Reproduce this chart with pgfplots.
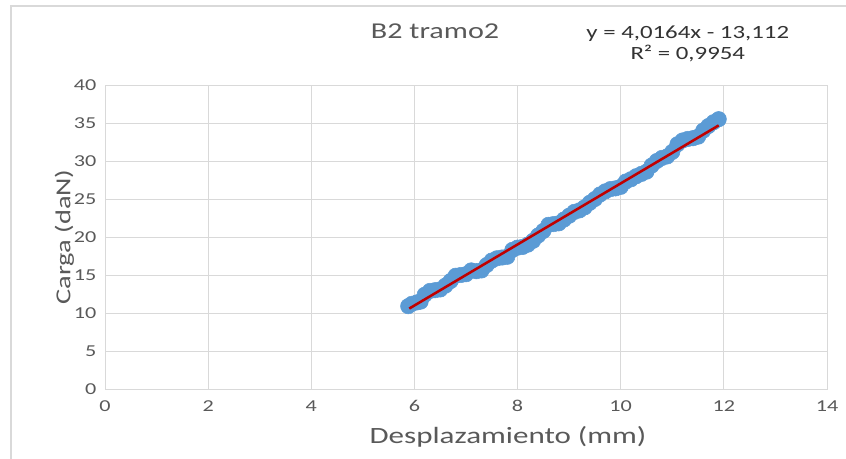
\documentclass[border=0pt]{standalone}
\usepackage{pgfplots}
\pgfplotsset{compat=1.18}
\usepackage{fontspec}
\setmainfont{Carlito}[FakeStretch=1.33]
\definecolor{ptblue}{HTML}{5B9BD5}
\definecolor{trred}{HTML}{C00000}
\definecolor{gridc}{HTML}{D9D9D9}
\definecolor{txtc}{HTML}{595959}
\begin{document}
\begin{tikzpicture}[x=1pt,y=1pt]
\useasboundingbox (-78.75,-52.5) rectangle (555.75,291.75);
\draw[gridc,line width=1.2pt] (-70.5,-52.5) -- (-70.5,287.25) -- (555.75,287.25);
\begin{axis}[
  at={(0,0)}, anchor=south west,
  scale only axis, width=541.5pt, height=228pt,
  xmin=0, xmax=14, ymin=0, ymax=40,
  xtick={0,2,...,14}, ytick={0,5,...,40},
  grid=major, grid style={gridc, line width=0.6pt},
  axis line style={gridc, line width=0.6pt},
  tick style={draw=none},
  /pgf/number format/assume math mode=true,
  ticklabel style={font=\fontsize{12.5}{14}\selectfont, text=txtc},
  xticklabel style={yshift=-5pt},
  yticklabel style={xshift=-3pt},
  xlabel={Desplazamiento (mm)},
  ylabel={Carga (daN)},
  xlabel style={font=\fontsize{17.5}{20}\selectfont, text=txtc, yshift=-4pt, xshift=31.5pt},
  ylabel style={font=\fontsize{16}{18}\selectfont, text=txtc, yshift=-7pt},
  clip mode=individual,
  clip=false,
]
\addplot[only marks, mark=*, mark size=5.8pt, mark options={draw=ptblue, fill=ptblue}] coordinates {
(5.88,10.9) (5.95,11.2) (6.05,11.4) (6.12,11.5) (6.2,12.4) (6.3,12.9) (6.4,13.0) (6.5,13.1)
(6.6,13.6) (6.7,14.2) (6.8,14.9) (6.9,15.0) (7.0,15.1) (7.1,15.6) (7.2,15.5) (7.3,15.6)
(7.4,16.3) (7.5,16.9) (7.6,17.2) (7.7,17.3) (7.8,17.4) (7.9,18.3) (8.0,18.6) (8.1,18.7)
(8.2,19.0) (8.3,19.5) (8.4,20.2) (8.5,20.8) (8.6,21.6) (8.7,21.7) (8.8,21.8) (8.9,22.3)
(9.0,22.8) (9.1,23.3) (9.2,23.5) (9.3,23.9) (9.4,24.5) (9.5,25.0) (9.6,25.6) (9.7,26.0)
(9.8,26.3) (9.9,26.4) (10.0,26.6) (10.1,27.3) (10.2,27.6) (10.3,28.0) (10.4,28.3) (10.5,28.6)
(10.6,29.4) (10.7,30.0) (10.8,30.4) (10.9,30.6) (11.0,31.2) (11.1,32.2) (11.2,32.7) (11.3,32.9)
(11.4,33.0) (11.5,33.2) (11.6,34.0) (11.7,34.6) (11.8,35.1) (11.9,35.5)
};
\addplot[trred, line width=1.9pt] coordinates {(5.9,10.585) (11.9,34.683)};
\node[font=\fontsize{17}{19}\selectfont, text=txtc] at (axis cs:6.4,47.1) {B2 tramo2};
\node[font=\fontsize{14}{16}\selectfont, text=black!80, align=center] at (axis cs:11.3,45.4) {y = 4,0164x - 13,112\\R² = 0,9954};
\end{axis}
\end{tikzpicture}
\end{document}
